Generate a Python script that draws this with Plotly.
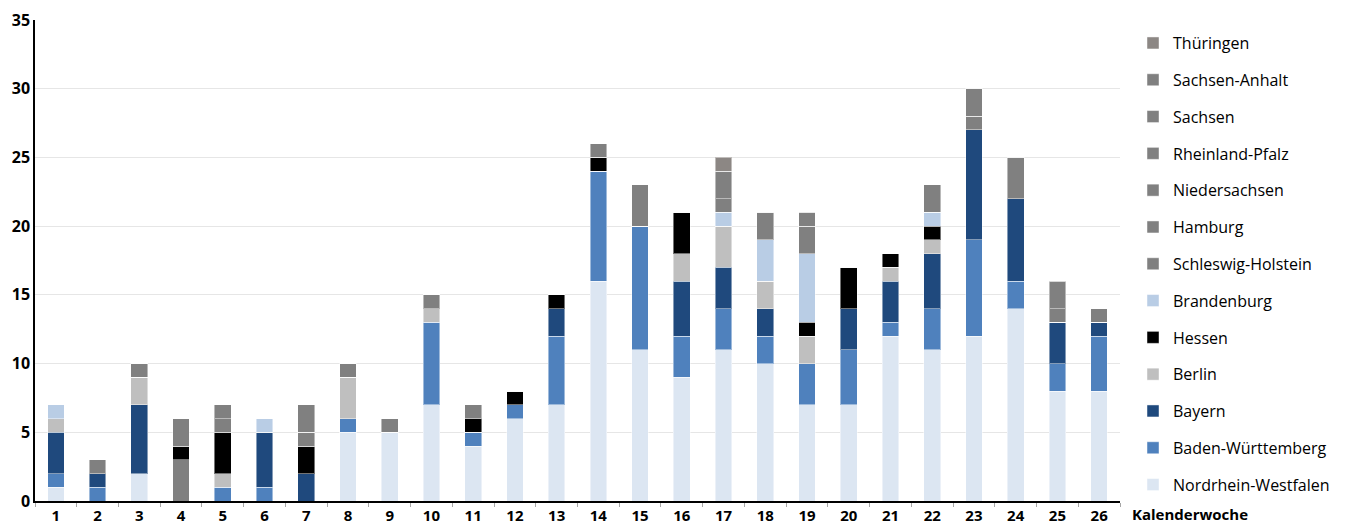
import plotly.graph_objects as go

weeks = [str(i) for i in range(1, 27)]

nordrhein_westfalen = [1, 0, 2, 0, 0, 0, 0, 5, 5, 7, 4, 6, 7, 16, 11, 9, 11, 10, 7, 7, 12, 11, 12, 14, 8, 8]
baden_wuerttemberg  = [1, 1, 0, 0, 1, 1, 0, 1, 0, 6, 1, 1, 5, 8, 9, 3, 3, 2, 3, 4, 1, 3, 7, 2, 2, 4]
bayern              = [3, 1, 5, 0, 0, 4, 2, 0, 0, 0, 0, 0, 2, 0, 0, 4, 3, 2, 0, 3, 3, 4, 8, 6, 3, 1]
berlin              = [1, 0, 2, 0, 1, 0, 0, 3, 0, 1, 0, 0, 0, 0, 0, 2, 3, 2, 2, 0, 1, 1, 0, 0, 0, 0]
schleswig_holstein  = [0, 0, 0, 3, 0, 0, 0, 0, 0, 0, 0, 0, 0, 0, 0, 0, 0, 0, 0, 0, 0, 0, 0, 0, 0, 0]
hessen              = [0, 0, 0, 1, 3, 0, 2, 0, 0, 0, 1, 1, 1, 1, 0, 3, 0, 0, 1, 3, 1, 1, 0, 0, 0, 0]
brandenburg         = [1, 0, 0, 0, 0, 1, 0, 0, 0, 0, 0, 0, 0, 0, 0, 0, 1, 3, 5, 0, 0, 1, 0, 0, 0, 0]
hamburg             = [0, 1, 1, 2, 1, 0, 1, 1, 1, 1, 0, 0, 0, 0, 0, 0, 0, 0, 0, 0, 0, 0, 0, 0, 0, 0]
niedersachsen       = [0, 0, 0, 0, 0, 0, 0, 0, 0, 0, 1, 0, 0, 1, 3, 0, 1, 2, 2, 0, 0, 0, 0, 0, 0, 0]
rheinland_pfalz     = [0, 0, 0, 0, 0, 0, 0, 0, 0, 0, 0, 0, 0, 0, 0, 0, 0, 0, 0, 0, 0, 2, 1, 3, 1, 1]
sachsen             = [0, 0, 0, 0, 1, 0, 2, 0, 0, 0, 0, 0, 0, 0, 0, 0, 2, 0, 1, 0, 0, 0, 0, 0, 0, 0]
sachsen_anhalt      = [0, 0, 0, 0, 0, 0, 0, 0, 0, 0, 0, 0, 0, 0, 0, 0, 0, 0, 0, 0, 0, 0, 2, 0, 2, 0]
thueringen          = [0, 0, 0, 0, 0, 0, 0, 0, 0, 0, 0, 0, 0, 0, 0, 0, 1, 0, 0, 0, 0, 0, 0, 0, 0, 0]

# (name, values, colour, legend rank) in stacking order, bottom to top
series = [
    ("Nordrhein-Westfalen", nordrhein_westfalen, "#dce6f2", 13),
    ("Baden-Württemberg", baden_wuerttemberg, "#4f81bd", 12),
    ("Bayern", bayern, "#1f497d", 11),
    ("Berlin", berlin, "#bfbfbf", 10),
    ("Schleswig-Holstein", schleswig_holstein, "#808080", 7),
    ("Hessen", hessen, "#000000", 9),
    ("Brandenburg", brandenburg, "#b9cde5", 8),
    ("Hamburg", hamburg, "#808080", 6),
    ("Niedersachsen", niedersachsen, "#808080", 5),
    ("Rheinland-Pfalz", rheinland_pfalz, "#808080", 4),
    ("Sachsen", sachsen, "#808080", 3),
    ("Sachsen-Anhalt", sachsen_anhalt, "#808080", 2),
    ("Thüringen", thueringen, "#8c8784", 1),
]

FONT = "Open Sans"

fig = go.Figure()
for name, vals, col, rank in series:
    fig.add_trace(go.Bar(
        x=weeks, y=vals, name=name,
        marker=dict(color=col, line=dict(color="rgba(255,255,255,0.45)", width=1)),
        legendrank=rank, legendgroup=name,
    ))

fig.update_layout(
    width=1352, height=516,
    barmode="stack", bargap=0.6,
    plot_bgcolor="white", paper_bgcolor="white",
    margin=dict(l=27, r=240, t=12, b=23, autoexpand=False),
    font=dict(family=FONT, color="black"),
    showlegend=True,
    legend=dict(
        x=1.012, xanchor="left", yref="container", y=0.965, yanchor="top",
        font=dict(family=FONT, size=16, color="black"),
        tracegroupgap=13, itemwidth=30, maxheight=516,
        bgcolor="rgba(0,0,0,0)",
    ),
    xaxis=dict(
        type="category", tickson="boundaries", ticks="outside", ticklen=4,
        tickcolor="#a6a6a6", showline=True, linecolor="black", linewidth=1.5,
        showgrid=False, automargin=False,
        tickfont=dict(family=FONT, size=15, color="black", weight="bold"),
        range=[-0.5, 25.5],
    ),
    yaxis=dict(
        range=[0, 35], dtick=5, showline=True, linecolor="black", linewidth=1.5,
        gridcolor="#e6e6e6", gridwidth=1, ticks="", zeroline=False, automargin=False,
        tickfont=dict(family=FONT, size=16, color="black", weight="bold"),
    ),
    annotations=[dict(
        text="<b>Kalenderwoche</b>", xref="paper", yref="paper",
        x=1.009, y=-0.027, xanchor="left", yanchor="middle", showarrow=False,
        font=dict(family=FONT, size=15, color="black"),
    )],
)

fig.write_html("out.html")
